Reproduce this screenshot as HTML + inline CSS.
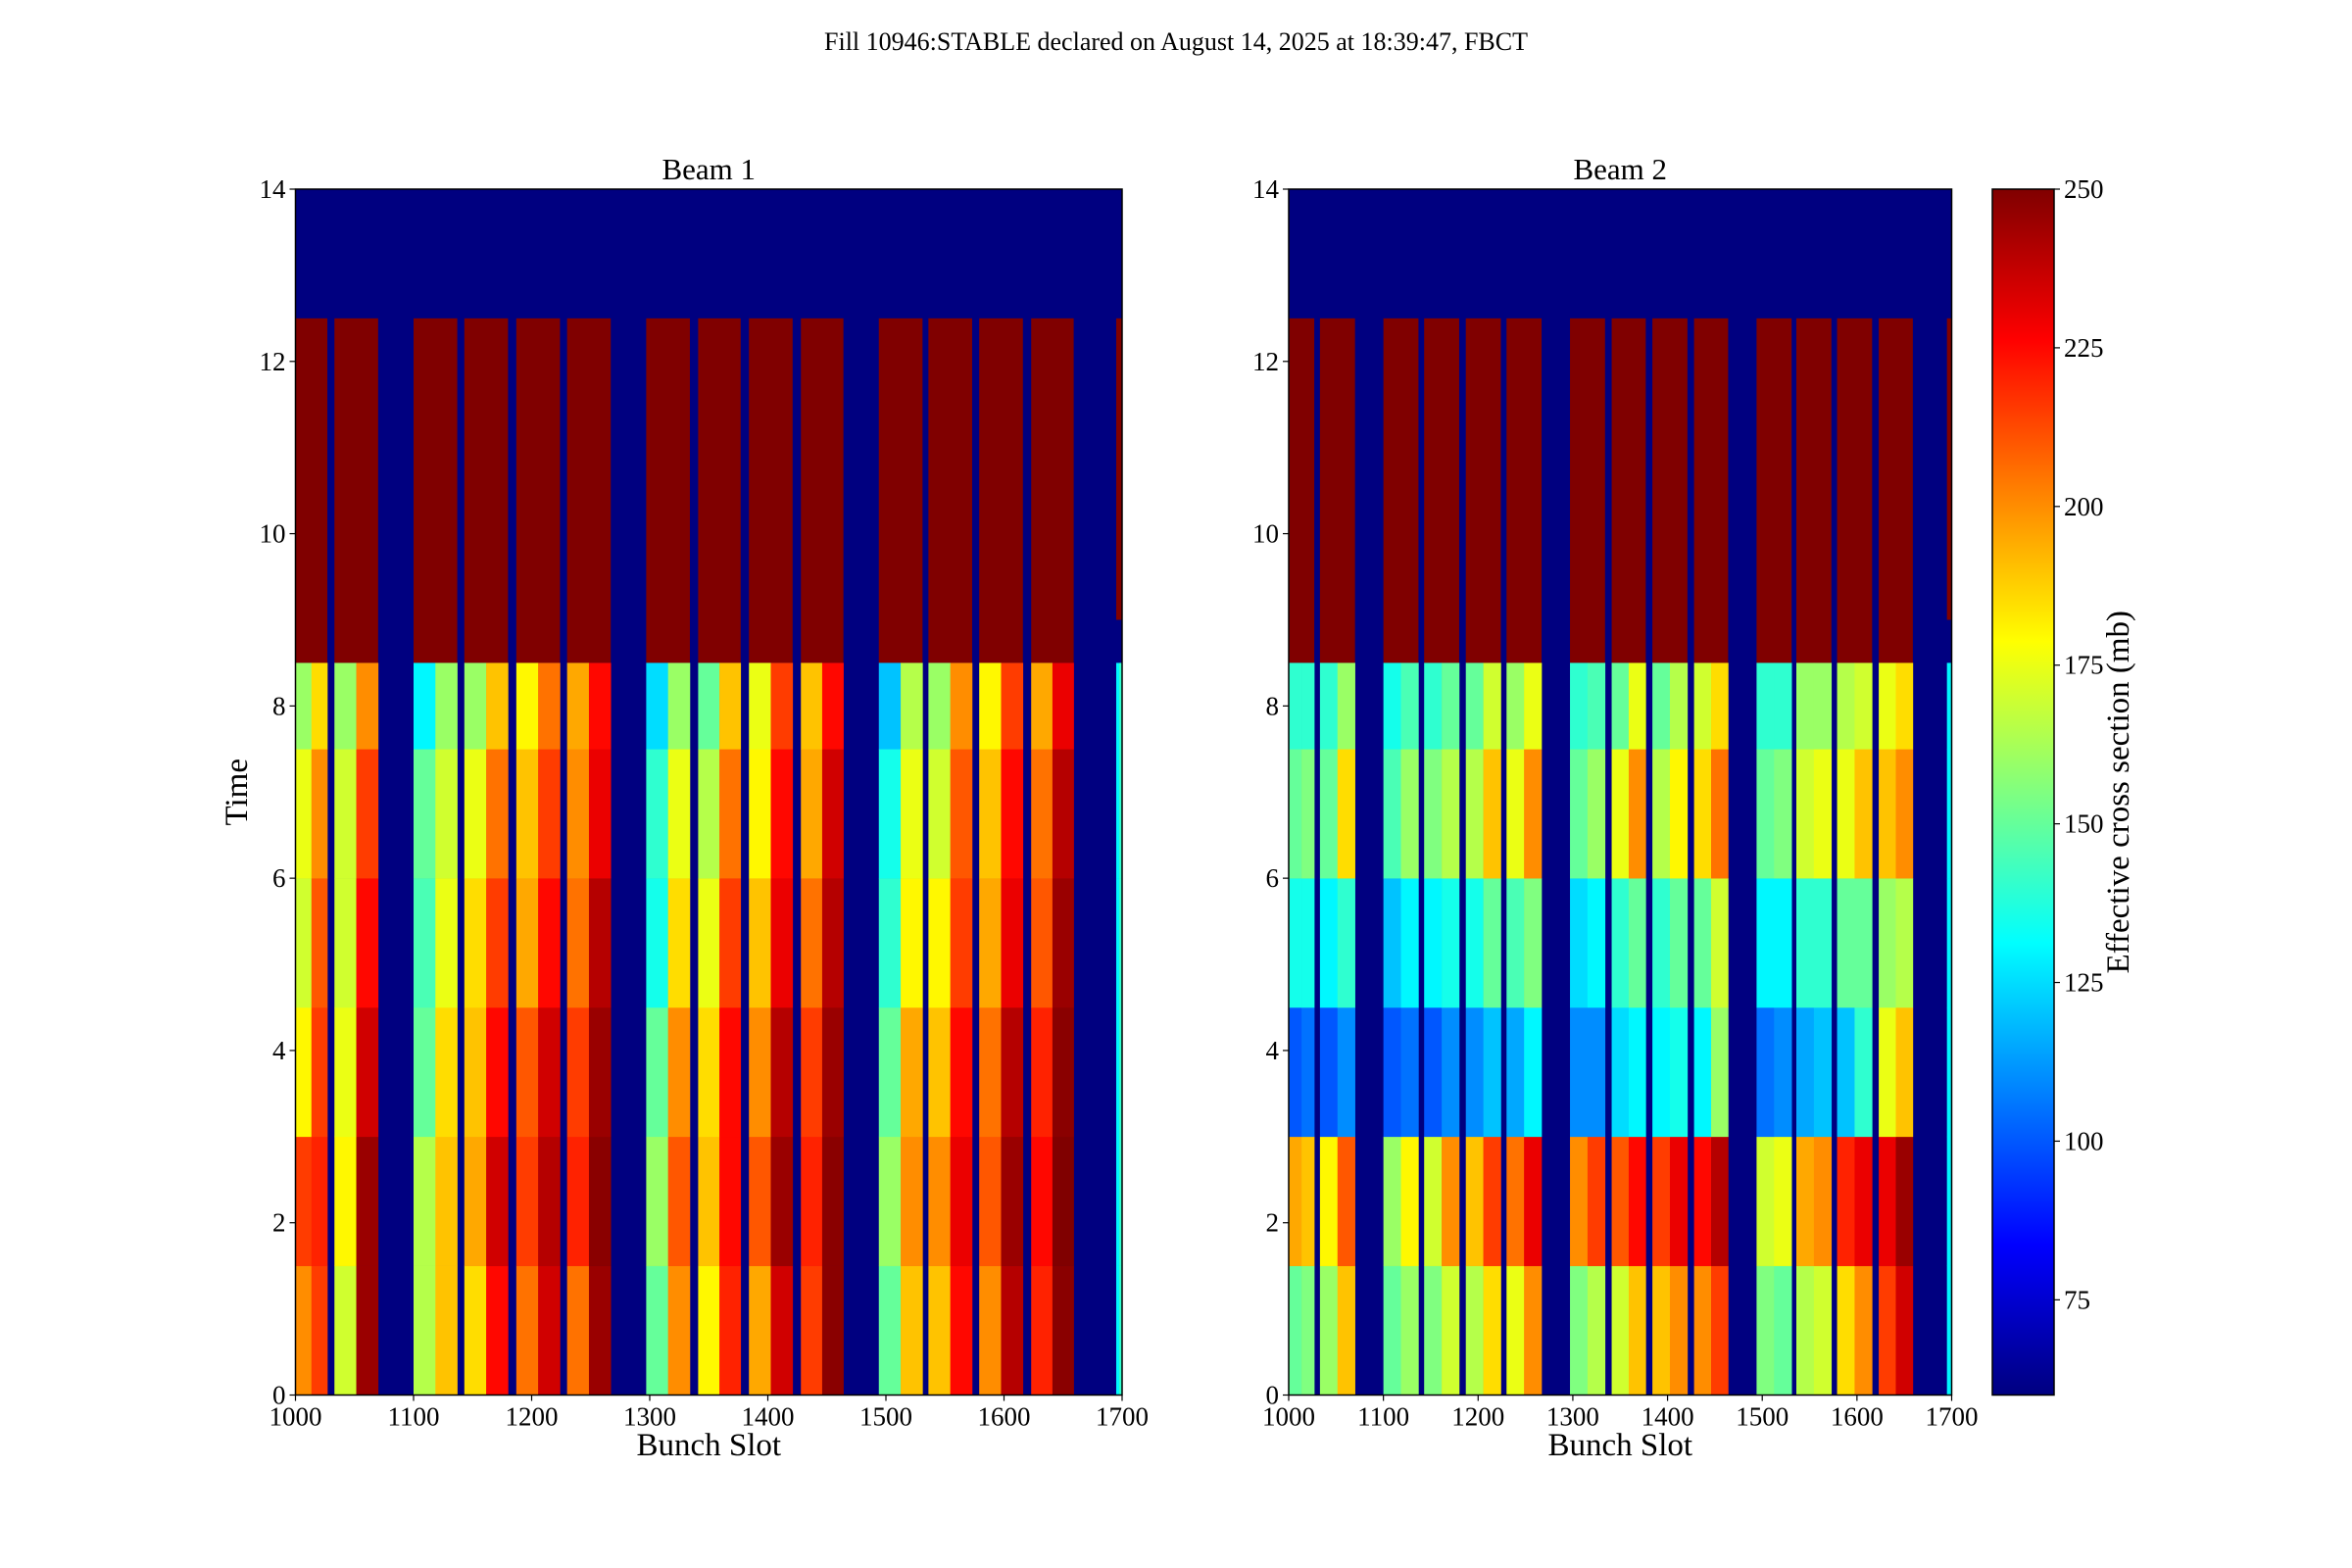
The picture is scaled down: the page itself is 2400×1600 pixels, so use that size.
<!DOCTYPE html>
<html><head><meta charset="utf-8">
<style>
html,body{margin:0;padding:0;background:#fff;}
svg{display:block;font-family:"Liberation Serif",serif;}
</style></head>
<body>
<svg id="fig" width="2400" height="1600" viewBox="0 0 2400 1600" xmlns="http://www.w3.org/2000/svg">
<rect width="2400" height="1600" fill="#fff"/>
<text x="1200" y="51" font-size="26" text-anchor="middle">Fill 10946:STABLE declared on August 14, 2025 at 18:39:47, FBCT</text>
<g id="p1"></g>
<g id="p2"></g>
<g id="cb"></g>
</svg>
<script>
// ---- data ----
const trainStart = [1000,1033,1100,1143,1187,1230,1297,1341,1384,1428,1494,1536,1579,1623,1695];
const trainEnd   = [1027,1070,1137,1180,1224,1267,1334,1377,1421,1464,1531,1573,1616,1659,1700];
// time band edges (hours), bottom to top, for measured region
const timeEdges = [0,1.5,3,4.5,6,7.5,8.5];
// values: per train, per half [left,right], per time band bottom->top
const beam1Left = [
 [200,215,180,170,175,160],[170,180,175,170,170,160],[165,165,150,145,150,130],[185,195,190,185,175,160],
 [205,215,210,195,190,180],[205,220,215,205,200,195],[150,160,150,135,140,125],[180,190,185,175,165,150],
 [195,210,200,190,180,175],[215,220,215,205,195,190],[150,160,150,140,135,120],[190,200,190,180,170,160],
 [200,210,205,195,190,180],[220,225,220,210,205,195],[130,130,130,130,130,130]];
const beam1Right = [
 [215,220,215,210,200,185],[245,245,235,225,215,200],[190,190,185,175,170,160],[225,235,225,215,205,190],
 [235,240,235,225,215,205],[245,248,245,240,230,225],[200,210,200,185,175,160],[220,225,225,215,205,190],
 [235,245,240,230,225,215],[248,248,245,240,235,225],[190,200,195,180,175,165],[225,230,225,215,210,200],
 [240,245,240,230,225,215],[248,250,248,245,240,230],[140,140,140,140,140,140]];
const beam2Left = [
 [150,195,100,135,150,140],[160,180,100,130,150,140],[150,160,100,120,145,135],[155,170,100,130,155,140],
 [165,190,110,135,165,150],[175,205,115,145,175,160],[155,200,110,125,150,140],[170,210,125,140,175,150],
 [190,215,130,140,165,150],[200,225,130,150,185,170],[155,170,105,130,150,140],[165,195,115,140,170,160],
 [185,220,120,150,175,165],[215,230,175,160,190,175],[130,130,130,130,130,130]];
const beam2Right = [
 [155,190,105,135,155,140],[190,210,110,140,185,160],[160,180,105,130,160,145],[170,200,110,135,165,150],
 [185,215,120,150,190,170],[200,230,130,155,200,175],[165,215,110,130,160,145],[190,225,130,150,200,175],
 [200,230,135,150,180,165],[215,240,160,170,205,185],[150,175,110,130,155,140],[170,200,120,140,175,160],
 [200,230,140,150,190,170],[235,245,190,165,200,185],[130,130,130,130,130,130]];
const redBottom = [8.5,8.5,8.5,8.5,8.5,8.5,8.5,8.5,8.5,8.5,8.5,8.5,8.5,8.5,9.0];
const redTop = 12.5;
const xTicks = [1000,1100,1200,1300,1400,1500,1600,1700];
const yTicks = [0,2,4,6,8,10,12,14];
const cbTicks = [75,100,125,150,175,200,225,250];
const vmin = 60, vmax = 250;

// ---- helpers ----
const NS = "http://www.w3.org/2000/svg";
function mk(tag, attrs, parent){const e=document.createElementNS(NS,tag);for(const k in attrs)e.setAttribute(k,attrs[k]);parent.appendChild(e);return e;}
function jet(v){
  let t=(v-vmin)/(vmax-vmin); t=Math.max(0,Math.min(1,t));
  const f=x=>Math.max(0,Math.min(1,x));
  const r=f(1.5-Math.abs(4*t-3)), g=f(1.5-Math.abs(4*t-2)), b=f(1.5-Math.abs(4*t-1));
  return `rgb(${Math.round(r*255)},${Math.round(g*255)},${Math.round(b*255)})`;
}
const plotTop=193, plotBot=1423.5;
function yScale(t){return plotBot-(t/14)*(plotBot-plotTop);}

function panel(g, x0, x1, title, leftVals, rightVals, showYLabel){
  const xs = s => x0 + (s-1000)/700*(x1-x0);
  let e;
  e=mk('rect',{x:x0,y:plotTop,width:x1-x0,height:plotBot-plotTop,fill:'#000080'},g);
  
  
  for(let i=0;i<trainStart.length;i++){
    const a=xs(trainStart[i]), b=xs(trainEnd[i]), m=(a+b)/2;
    e=mk('rect',{x:a,y:yScale(redTop),width:b-a,height:yScale(redBottom[i])-yScale(redTop),fill:'#800000'},g);
    
    
    for(let k=0;k<timeEdges.length-1;k++){
      const yt=yScale(timeEdges[k+1]), yb=yScale(timeEdges[k]);
      const halves=[[a,m,leftVals[i][k]],[m,b,rightVals[i][k]]];
      for(const h of halves){
        e=mk('rect',{x:h[0],y:yt,width:h[1]-h[0]+0.3,height:yb-yt+0.3,fill:jet(h[2])},g);
        
        
      }
    }
  }
  e=mk('rect',{x:x0,y:plotTop,width:x1-x0,height:plotBot-plotTop,fill:'none',stroke:'#000','stroke-width':1.5},g);
  
  
  for(const v of xTicks){
    const x=xs(v);
    mk('line',{x1:x,x2:x,y1:plotBot,y2:plotBot+6,stroke:'#000','stroke-width':1.2},g);
    e=mk('text',{x:x,y:plotBot+31,'font-size':27,'text-anchor':'middle'},g);
    e.textContent=v;
    
    
  }
  for(const v of yTicks){
    const y=yScale(v);
    mk('line',{x1:x0-6,x2:x0,y1:y,y2:y,stroke:'#000','stroke-width':1.2},g);
    e=mk('text',{x:x0-10,y:y+9,'font-size':27,'text-anchor':'end'},g);
    e.textContent=v;
    
    
  }
  e=mk('text',{x:(x0+x1)/2,y:183,'font-size':31,'text-anchor':'middle'},g);
  e.textContent=title;
  
  
  e=mk('text',{x:(x0+x1)/2,y:1485,'font-size':33,'text-anchor':'middle'},g);
  e.textContent='Bunch Slot';
  
  
  if(showYLabel){
    e=mk('text',{x:0,y:0,'font-size':33,'text-anchor':'middle',transform:`translate(252,${(plotTop+plotBot)/2}) rotate(-90)`},g);
    e.textContent='Time';
    
    
  }
}
panel(document.getElementById('p1'),301.5,1145,'Beam 1',beam1Left,beam1Right,true);
panel(document.getElementById('p2'),1315,1991.5,'Beam 2',beam2Left,beam2Right,false);

// colorbar
(function(){
  const g=document.getElementById('cb');
  const cx0=2033, cx1=2096;
  const cs=v=>plotBot-(v-vmin)/(vmax-vmin)*(plotBot-plotTop);
  const defs=mk('defs',{},g);
  const lg=mk('linearGradient',{id:'jetg',x1:0,y1:1,x2:0,y2:0},defs);
  for(let i=0;i<=40;i++){const v=vmin+(vmax-vmin)*i/40;mk('stop',{offset:(i/40),'stop-color':jet(v)},lg);}
  let e=mk('rect',{x:cx0,y:plotTop,width:cx1-cx0,height:plotBot-plotTop,fill:'url(#jetg)',stroke:'#000','stroke-width':1.5},g);
  
  
  for(const v of cbTicks){
    const y=cs(v);
    mk('line',{x1:cx1,x2:cx1+6,y1:y,y2:y,stroke:'#000','stroke-width':1.2},g);
    e=mk('text',{x:cx1+10,y:y+9,'font-size':27},g);
    e.textContent=v;
    
    
  }
  e=mk('text',{x:0,y:0,'font-size':33,'text-anchor':'middle',transform:`translate(2172,${(plotTop+plotBot)/2}) rotate(-90)`},g);
  e.textContent='Effective cross section (mb)';
  
  
})();
</script>
</body></html>
